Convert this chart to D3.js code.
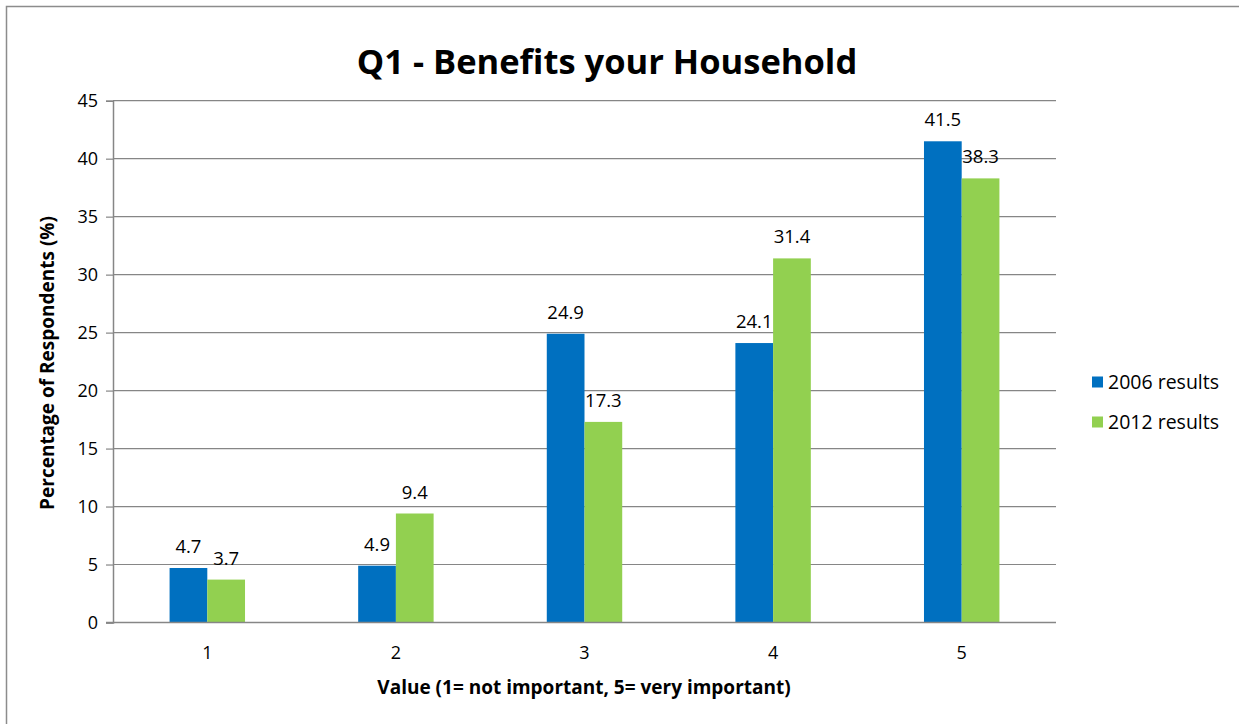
<!DOCTYPE html>
<html><head><meta charset="utf-8">
<script src="https://cdn.jsdelivr.net/npm/d3@7"></script>
<style>
html,body{margin:0;padding:0;background:#fff;}
svg{display:block;}
text{font-family:"Open Sans",sans-serif;fill:#000;}
</style></head>
<body>
<svg id="chart" width="1239" height="724"></svg>
<script>
const categories = ["1","2","3","4","5"];
const seriesNames = ["2006 results","2012 results"];
const values2006 = [4.7, 4.9, 24.9, 24.1, 41.5];
const values2012 = [3.7, 9.4, 17.3, 31.4, 38.3];
const yTicks = [0,5,10,15,20,25,30,35,40,45];
const colors = ["#0070C0","#92D050"];
const seriesValues = [values2006, values2012];

const svg = d3.select("#chart");
const W = 1239, H = 724;
const m = {left:113, right:1056, top:100.7, bottom:622.5};

// outer border
svg.append("rect").attr("x",6.5).attr("y",6.5).attr("width",W).attr("height",H)
  .attr("fill","none").attr("stroke","#8c8c8c").attr("stroke-width",1.5);

const x = d3.scaleBand().domain(categories).range([m.left,m.right]).paddingInner(0.6).paddingOuter(0.3);
const xs = d3.scaleBand().domain(seriesNames).range([0,x.bandwidth()]);
const y = d3.scaleLinear().domain([0,45]).range([m.bottom,m.top]);

// gridlines
svg.append("g").selectAll("line").data(yTicks.filter(d=>d>0)).join("line")
  .attr("x1",m.left).attr("x2",m.right).attr("y1",d=>y(d)).attr("y2",d=>y(d))
  .attr("stroke","#868686").attr("stroke-width",1.2);

// y axis
const yAxis = svg.append("g").attr("transform",`translate(${m.left},0)`)
  .call(d3.axisLeft(y).tickValues(yTicks).tickSize(7).tickPadding(8));
yAxis.select(".domain").attr("stroke","#868686").attr("stroke-width",1.5);
yAxis.selectAll(".tick line").attr("stroke","#868686").attr("stroke-width",1.2);
yAxis.selectAll(".tick text").attr("font-size",18).attr("font-family","Open Sans").attr("fill","#000");

// bars
const groups = svg.append("g").selectAll("g").data(categories).join("g")
  .attr("transform",d=>`translate(${x(d)},0)`);
seriesNames.forEach((s,si)=>{
  groups.append("rect")
    .attr("x",xs(s)).attr("width",xs.bandwidth())
    .attr("y",(d,i)=>y(seriesValues[si][i]))
    .attr("height",(d,i)=>y(0)-y(seriesValues[si][i]))
    .attr("fill",colors[si]);
});
seriesNames.forEach((s,si)=>{
  groups.append("text")
    .attr("x",xs(s)+xs.bandwidth()/2)
    .attr("y",(d,i)=>y(seriesValues[si][i])-15)
    .attr("text-anchor","middle").attr("font-size",18.5)
    .text((d,i)=>seriesValues[si][i].toFixed(1));
});

// x axis
const xAxis = svg.append("g").attr("transform",`translate(0,${m.bottom})`)
  .call(d3.axisBottom(x).tickSize(0).tickPadding(24));
xAxis.select(".domain").attr("stroke","#868686").attr("stroke-width",1.5)
  .attr("d",`M${m.left-7},0H${m.right}`);
xAxis.selectAll(".tick text").attr("font-size",18).attr("font-family","Open Sans").attr("fill","#000");

// title
svg.append("text").attr("x",607).attr("y",74).attr("text-anchor","middle")
  .attr("font-size",34.5).attr("font-weight","bold").text("Q1 - Benefits your Household");

// axis titles
svg.append("text").attr("x",584).attr("y",694).attr("text-anchor","middle")
  .attr("font-size",19).attr("font-weight","bold").text("Value (1= not important, 5= very important)");
svg.append("text").attr("transform","translate(54,363) rotate(-90)").attr("text-anchor","middle")
  .attr("font-size",19).attr("font-weight","bold").text("Percentage of Respondents (%)");

// legend
const leg = svg.append("g").selectAll("g").data(seriesNames).join("g")
  .attr("transform",(d,i)=>`translate(1092,${382+i*40})`);
leg.append("rect").attr("x",0).attr("y",-5.5).attr("width",11).attr("height",11).attr("fill",(d,i)=>colors[i]);
leg.append("text").attr("x",16).attr("y",7).attr("font-size",19.5).text(d=>d);
</script>
</body></html>
